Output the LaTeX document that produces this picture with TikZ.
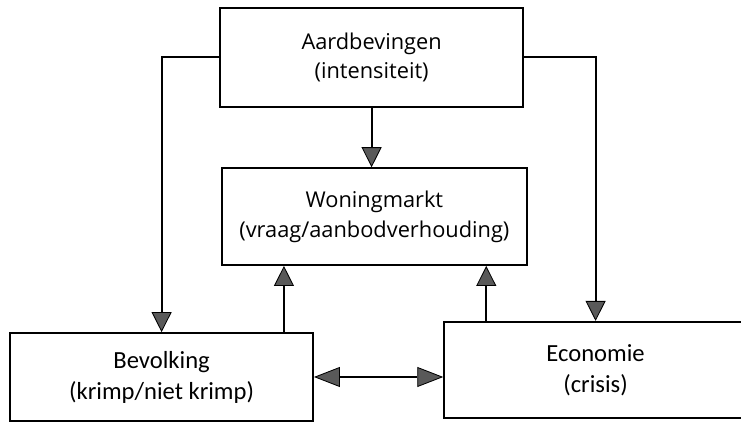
\documentclass[tikz,border=0pt]{standalone}
\usepackage{fontspec}
\setsansfont{Carlito}
\newfontfamily\topfont{Open Sans}
\usetikzlibrary{arrows.meta}
\tikzset{
  factor/.style={rectangle,draw=black,line width=1.2pt,fill=white,
    minimum width=7.575cm,minimum height=2.45cm,align=center,
    font=\topfont\fontsize{15.5}{21}\selectfont},
  lower/.style={factor,font=\sffamily\fontsize{17.5}{22}\selectfont},
  arrow/.style={-{Triangle[length=0.5cm,width=0.5cm,fill=black!65,line width=0.6pt]},line width=1.5pt},
  both/.style={{Triangle[length=0.65cm,width=0.5cm,fill=black!65,line width=0.6pt]}-{Triangle[length=0.65cm,width=0.5cm,fill=black!65,line width=0.6pt]},line width=1.5pt}
}

\begin{document}
\begin{tikzpicture}
  \useasboundingbox (0,0) rectangle (18.525,10.575);
  \node[factor,minimum height=2.475cm] (aard) at (9.29,9.14) {Aardbevingen\\(intensiteit)};
  \node[factor,minimum width=7.625cm,minimum height=2.425cm] (won) at (9.36,5.16) {Woningmarkt\\(vraag/aanbodverhouding)};
  \node[lower,minimum height=2.2cm] (bev) at (4.04,1.15) {Bevolking\\(krimp/niet krimp)};
  \node[lower,minimum height=2.4cm] (eco) at (14.89,1.33) {Economie\\(crisis)};

  \coordinate (bevup) at ([xshift=-0.75cm]bev.north east);
  \coordinate (ecoup) at ([xshift=1.075cm]eco.north west);

  \draw[arrow] (aard.west) -| (bev.north);
  \draw[arrow] (aard.east) -| (eco.north);
  \draw[arrow] (aard.south) -- (aard.south |- won.north);
  \draw[arrow] (bevup) -- (bevup |- won.south);
  \draw[arrow] (ecoup) -- (ecoup |- won.south);
  \draw[both] (bev.east) -- (bev.east -| eco.west);
\end{tikzpicture}
\end{document}
